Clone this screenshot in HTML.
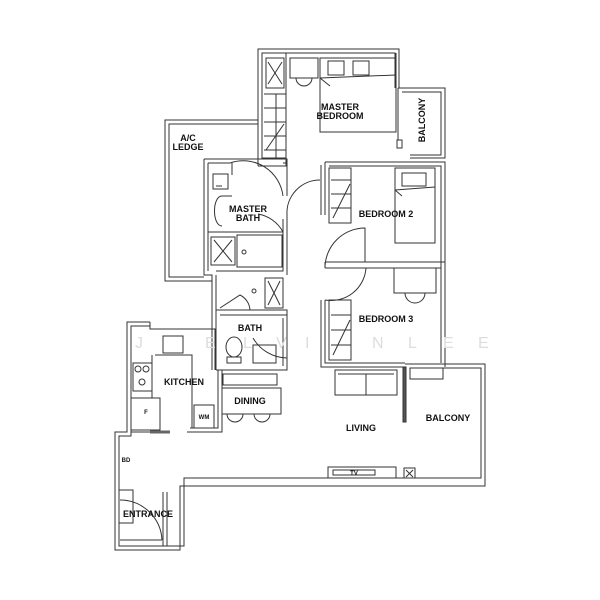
<!DOCTYPE html>
<html><head><meta charset="utf-8"><style>
html,body{margin:0;padding:0;background:#fff;}
svg{display:block}
text{font-family:"Liberation Sans",sans-serif;font-weight:bold;fill:#111;}
</style></head><body>
<svg width="600" height="600" viewBox="0 0 600 600" xmlns="http://www.w3.org/2000/svg">
<g fill="none" stroke="#333" stroke-width="1">
<path d="M258 120 H165 V281 H212"/>
<path d="M258 124 H169 V277 H204"/>
<path d="M258 159 V49 H399 V88"/>
<path d="M262 159 V53 H286"/>
<path d="M286 53 H395 V88"/>
<rect x="262" y="53" width="24" height="105"/>
<path d="M286 53 V166 H258"/>
<path d="M258 159 V166"/>
<line x1="396" y1="53" x2="396" y2="88"/>
<path d="M398 88 H445 V158 H410"/>
<path d="M402 92 H441 V155 H410"/>
<line x1="398" y1="88" x2="398" y2="140"/>
<rect x="397" y="140" width="5" height="8"/>
<path d="M204 159 V275 H212 V370"/>
<path d="M208 163 V271"/>
<path d="M204 159 H287 V196"/>
<path d="M208 163 H230"/>
<path d="M283 163 H287"/>
<path d="M287 215 V275"/>
<path d="M283 219 V271 H216"/>
<line x1="208" y1="232" x2="283" y2="232"/>
<path d="M325 162 H445 V367"/>
<path d="M329 166 H441 V363"/>
<path d="M325 162 V215 M321 165 V215"/>
<path d="M325 262 H445 M325 268 H441"/>
<path d="M325 262 V268"/>
<path d="M321 300 V367 H405"/>
<path d="M325 300 V363 H405"/>
<path d="M405 364 H485 V486 H180 V550 H115 V432 H127 V322 H150"/>
<path d="M410 368 H481 V478 H184 V546 H119 V436 H131 V326 H150"/>
<path d="M150 322 V329 H215 V370"/>
<path d="M212 275 V329"/>
<path d="M216 275 V370"/>
<path d="M216 310 H287 V315 H220"/>
<path d="M287 315 V370 H216"/>
<path d="M283 318 V366"/>
<path d="M222 370 V432 H187 M218 370 V428 H190"/>
<path d="M131 432 H170"/>
<line x1="150" y1="432" x2="170" y2="432" stroke-width="3" stroke="#666"/>
<path d="M167 492 V546 M163 492 V546"/>
<path d="M119 490 H133 V523 H119"/>
<rect x="290" y="58" width="28" height="20"/>
<rect x="320" y="58" width="76" height="74"/>
<rect x="328" y="61" width="16" height="14"/>
<rect x="353" y="61" width="16" height="14"/>
<path d="M320 78 L396 75 M320 78 L330 86"/>
<path d="M296 78 A8 8 0 0 0 312 78"/>
<path d="M266 58 H284 V88 H266 Z M268 62 L282 84 M282 62 L268 84"/>
<path d="M264 94 H286 M264 108 H286 M264 122 H286 M264 136 H286 M264 150 H286 M276 94 V158 M266 150 L284 124"/>
<rect x="213" y="174" width="15" height="15"/>
<path d="M216 186 H222"/>
<path d="M222 196 C212 196 212 226 222 226 M222 196 H232"/>
<rect x="211" y="237" width="24" height="28"/>
<path d="M214 240 L232 262 M232 240 L214 262"/>
<rect x="237" y="235" width="45" height="32"/>
<circle cx="244" cy="252" r="2"/>
<path d="M232 163 V175"/>
<path d="M230 163 A40 40 0 0 1 283 196"/>
<path d="M287 215 A33 33 0 0 1 320 180"/>
<path d="M258 214 A35 35 0 0 1 283 232" />
<rect x="329" y="168" width="22" height="55"/>
<path d="M331 180 H351 M331 194 H351 M331 208 H351 M333 218 L350 184"/>
<rect x="395" y="168" width="40" height="75"/>
<rect x="402" y="173" width="24" height="13"/>
<path d="M395 190 L435 187 M395 190 L402 196"/>
<path d="M325 268 A40 40 0 0 1 365 228 V262"/>
<rect x="394" y="268" width="42" height="25"/>
<path d="M405 293 A10 10 0 0 0 425 293"/>
<rect x="329" y="300" width="22" height="60"/>
<path d="M331 315 H351 M331 330 H351 M331 345 H351 M333 355 L350 320"/>
<path d="M325 300 A35 35 0 0 0 366 268"/>
<rect x="335" y="370" width="62" height="25"/>
<path d="M338 374 H394 M366 374 V395"/>
<rect x="410" y="368" width="33" height="11"/>
<rect x="403" y="367" width="3" height="55" fill="#555"/>
<rect x="328" y="467" width="68" height="11"/>
<rect x="333" y="470" width="42" height="5"/>
<rect x="404" y="468" width="11" height="10"/>
<path d="M406 470 L413 477 M413 470 L406 477"/>
<rect x="265" y="278" width="18" height="30"/>
<path d="M268 281 L280 305 M280 281 L268 305"/>
<circle cx="254" cy="291" r="2"/>
<path d="M220 308 L240 295 A18 18 0 0 1 250 310"/>
<ellipse cx="234" cy="347" rx="8" ry="10"/>
<rect x="227" y="357" width="14" height="6"/>
<rect x="253" y="345" width="23" height="18"/>
<path d="M253 338 A40 40 0 0 0 287 358"/>
<rect x="163" y="336" width="20" height="17"/>
<rect x="133" y="363" width="19" height="28"/>
<circle cx="138" cy="369" r="3"/><circle cx="146" cy="369" r="3"/><circle cx="142" cy="382" r="3"/>
<path d="M131 398 H160 V430 H131 M155 355 H192 V428 M152 355 V398"/>
<rect x="194" y="405" width="20" height="23"/>
<rect x="223" y="374" width="54" height="11"/>
<rect x="222" y="388" width="59" height="26"/>
<path d="M227 414 A8 8 0 0 0 243 414 M254 414 A8 8 0 0 0 270 414"/>
<path d="M120 500 A42 42 0 0 1 162 540 M120 540 H162"/>
</g>
<g font-size="16" style="font-weight:normal">
<text x="135" y="348" style="fill:#ddd;font-weight:normal">J</text><text x="205" y="348" style="fill:#ddd;font-weight:normal">E</text><text x="243" y="348" style="fill:#ddd;font-weight:normal">L</text><text x="276" y="348" style="fill:#ddd;font-weight:normal">V</text><text x="305" y="348" style="fill:#ddd;font-weight:normal">I</text><text x="372" y="348" style="fill:#ddd;font-weight:normal">N</text><text x="408" y="348" style="fill:#ddd;font-weight:normal">L</text><text x="443" y="348" style="fill:#ddd;font-weight:normal">E</text><text x="478" y="348" style="fill:#ddd;font-weight:normal">E</text>
</g>
<g font-size="9" text-anchor="middle">
<text x="340" y="110">MASTER</text><text x="340" y="119">BEDROOM</text>
<text x="188" y="141">A/C</text><text x="188" y="150">LEDGE</text>
<text x="248" y="212">MASTER</text><text x="248" y="221">BATH</text>
<text x="386" y="217">BEDROOM 2</text>
<text x="386" y="322">BEDROOM 3</text>
<text x="250" y="331">BATH</text>
<text x="184" y="385">KITCHEN</text>
<text x="250" y="404">DINING</text>
<text x="361" y="431">LIVING</text>
<text x="448" y="421">BALCONY</text>
<text x="148" y="517">ENTRANCE</text>
<text x="0" y="0" transform="translate(425 120) rotate(-90)">BALCONY</text>
</g>
<g font-size="6" text-anchor="middle">
<text x="146" y="414">F</text><text x="204" y="419">WM</text><text x="126" y="462">BD</text><text x="354" y="475">TV</text>
</g>
</svg>
</body></html>
